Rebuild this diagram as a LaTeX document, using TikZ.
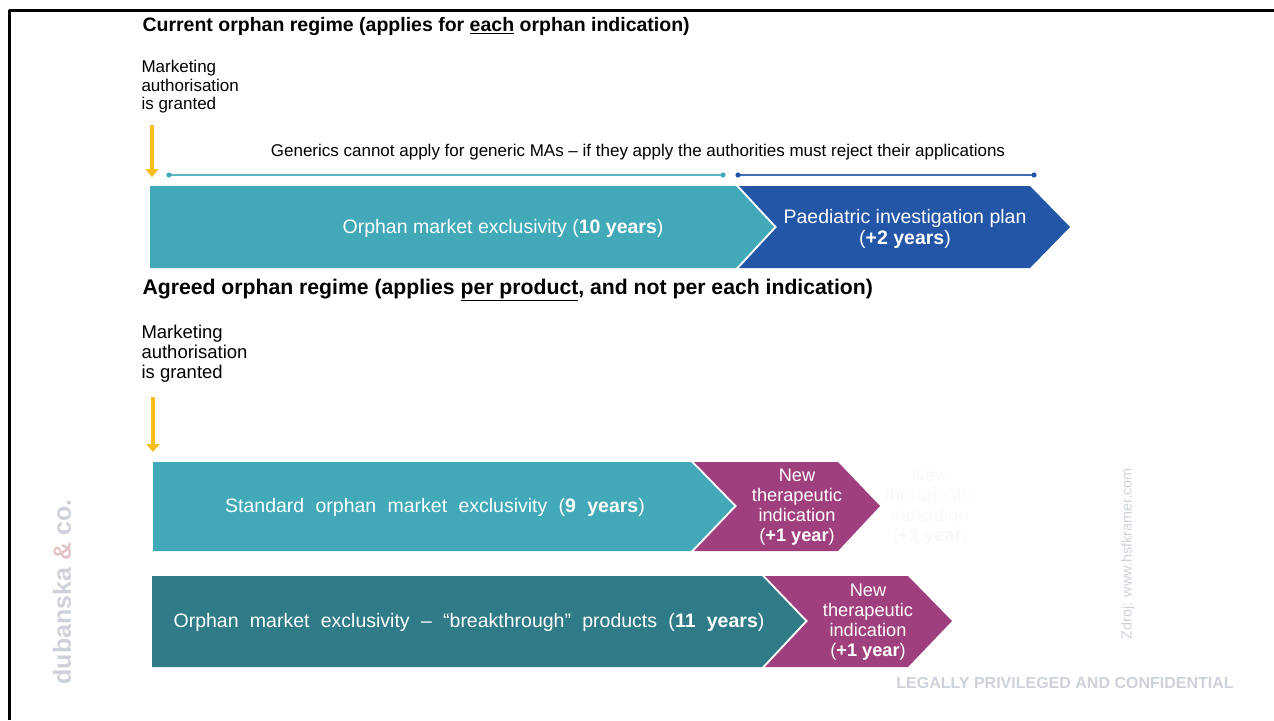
\documentclass[tikz,border=0pt]{standalone}
\usepackage{fontspec}
\setmainfont{Liberation Sans}
\usetikzlibrary{arrows.meta}
\definecolor{tealA}{HTML}{41A9B7}
\definecolor{tealB}{HTML}{2F7B88}
\definecolor{pipblue}{HTML}{2356A6}
\definecolor{plum}{HTML}{9F3F7E}
\definecolor{gold}{HTML}{F7BE1E}
\definecolor{wmgray}{HTML}{CDD1DA}
\definecolor{wmpink}{HTML}{E3C4C6}
\newcommand{\widespace}{\spaceskip=0.58em plus 0.1em\relax}
\tikzset{
  head/.style={font=\bfseries\fontsize{19.5}{22}\selectfont,anchor=west},
  note/.style={font=\fontsize{17}{18.5}\selectfont,align=left,anchor=north west},
  inbar/.style={text=white,font=\fontsize{19.5}{21}\selectfont,align=center},
  wide/.style={execute at begin node=\widespace},
  addon/.style={text=white,font=\fontsize{18.2}{20}\selectfont,align=center},
  mapin/.style={gold,line width=4.5pt,-{Triangle[width=13pt,length=8pt]}},
}
\begin{document}
\begin{tikzpicture}[x=1pt,y=-1pt,line join=round]
\useasboundingbox (0,0) rectangle (1274,720);
\draw[line width=3pt] (9,720)--(9,10)--(1274,10);

% current regime
\node[head] (t1) at (139,27) {Current orphan regime (applies for \underline{each} orphan indication)};
\node[note] (ma1) at (138,57) {Marketing\\authorisation\\is granted};
\path (152,125) coordinate (a1) (152,177) coordinate (b1);
\draw[mapin] (a1)--(b1);
\node[font=\fontsize{17}{18}\selectfont] (gen) at (638,152) {Generics cannot apply for generic MAs -- if they apply the authorities must reject their applications};
\path
(169,175) coordinate (g1)
(723,175) coordinate (g2)
(738,175) coordinate (g3)
(1034,175) coordinate (g4)
;
\draw[tealA!85,line width=1.3pt] (g1)--(g2);
\draw[pipblue!85,line width=1.3pt] (g3)--(g4);
\foreach\p/\c in {g1/tealA, g2/tealA, g3/pipblue, g4/pipblue}
\fill[\c] (\p) circle (2.6pt);
\fill[tealA] (150,186)--(736,186)--(774,227)--(736,268)--(150,268)--cycle;
\fill[pipblue] (739,186)--(1030,186)--(1070,227)--(1030,268)--(739,268)--(777,227)--cycle;
\node[inbar] (ome) at (503,228) {Orphan market exclusivity (\textbf{10 years})};
\node[inbar] (pip) at (905,229) {Paediatric investigation plan\\(\textbf{+2 years})};

% agreed regime
\node[head,font=\bfseries\fontsize{21.2}{24}\selectfont] (t2) at (139,290) {Agreed orphan regime (applies \underline{per product}, and not per each indication)};
\node[note,font=\fontsize{18.5}{20}\selectfont] (ma2) at (138,322) {Marketing\\authorisation\\is granted};
\path (153,397) coordinate (a2) (153,452) coordinate (b2);
\draw[mapin] (a2)--(b2);
\fill[tealA] (153,462)--(691,462)--(734,506)--(691,551)--(153,551)--cycle;
\fill[plum] (694,462)--(838,462)--(880,506)--(838,551)--(694,551)--(737,506)--cycle;
\node[inbar,wide] (std) at (435,507) {Standard orphan market exclusivity (\textbf{9 years})};
\node[addon] (nti1) at (797,507) {New\\therapeutic\\indication\\(\textbf{+1 year})};
\node[addon,text=white!97.5!black] (nti0) at (930,507) {New\\therapeutic\\indication\\(\textbf{+1 year})};
\fill[tealB] (152,576)--(762,576)--(805,621)--(762,667)--(152,667)--cycle;
\fill[plum] (765,576)--(908,576)--(952,621)--(908,667)--(765,667)--(808,621)--cycle;
\node[inbar,wide] (brk) at (469,622) {Orphan market exclusivity -- “breakthrough” products (\textbf{11 years})};
\node[addon] (nti2) at (868,622) {New\\therapeutic\\indication\\(\textbf{+1 year})};

% marks
\node[rotate=90,text=wmgray,font=\bfseries\fontsize{25}{25}\selectfont] (dub) at (62,592) {dubanska \textcolor{wmpink}{\&} co.};
\node[rotate=90,text=wmgray,font=\fontsize{14.4}{14}\selectfont] (src) at (1128,554) {Zdroj: www.hsfkramer.com};
\node[text=wmgray,font=\bfseries\fontsize{16}{16}\selectfont] (lpc) at (1065,683) {LEGALLY PRIVILEGED AND CONFIDENTIAL};
\end{tikzpicture}
\end{document}
